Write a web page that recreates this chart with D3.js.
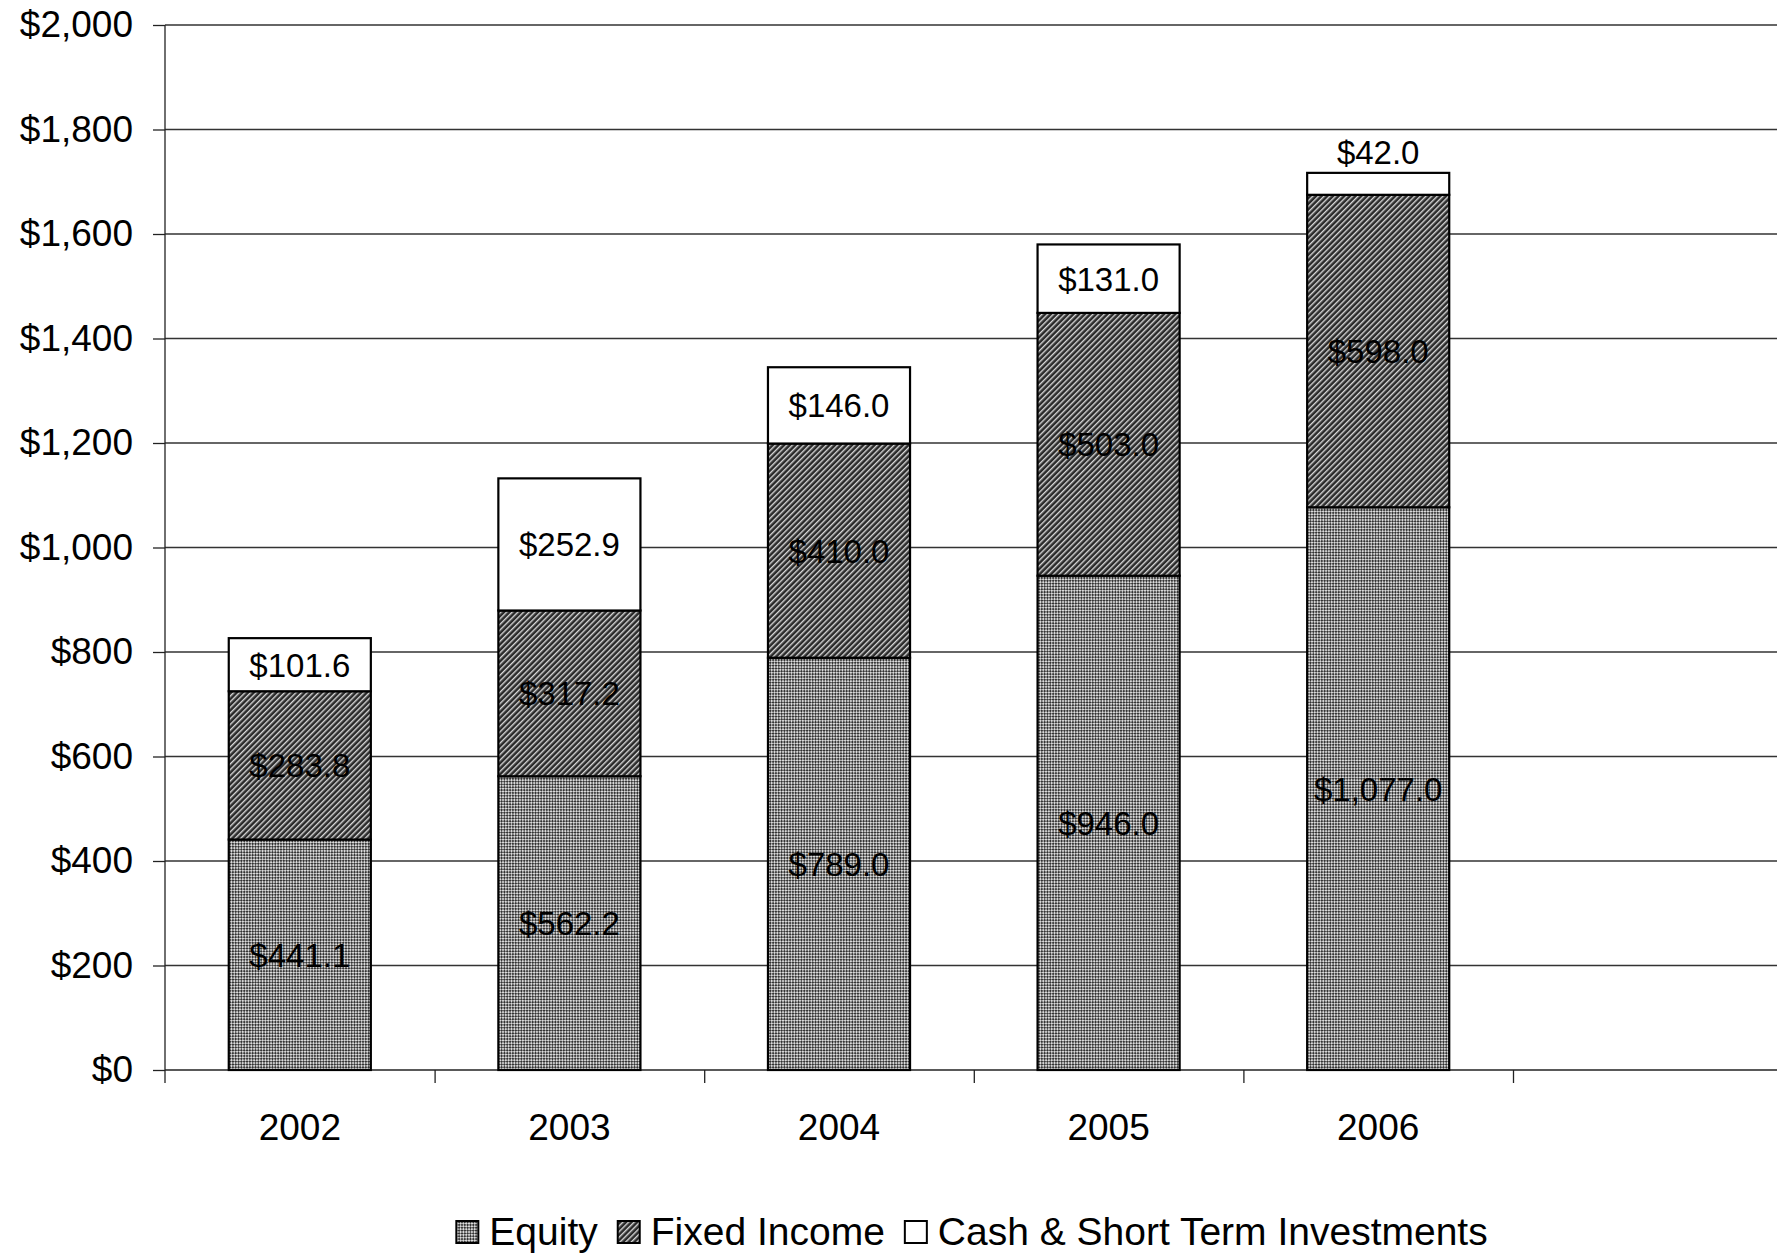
<!DOCTYPE html>
<html>
<head>
<meta charset="utf-8">
<script src="https://cdn.jsdelivr.net/npm/d3@7"></script>
<style>
  body { margin: 0; background: #fff; }
  svg { display: block; font-family: "Liberation Sans", Arial, sans-serif; }
  .yaxis text, .xlabels text { font-size: 37px; fill: #000; }
  .yaxis line, .yaxis path, .xaxis line, .xaxis path { stroke: #222; stroke-width: 1.3; }
  .grid line { stroke: #333; stroke-width: 1.3; }
  .label { font-size: 33px; fill: #000; text-anchor: middle; }
  .legend text { font-size: 39px; fill: #000; }
</style>
</head>
<body>
<div id="main-chart"></div>
<script>
// Data (millions of dollars)
var years = ["2002", "2003", "2004", "2005", "2006"];
var equity = [441.1, 562.2, 789.0, 946.0, 1077.0];
var fixedIncome = [283.8, 317.2, 410.0, 503.0, 598.0];
var cash = [101.6, 252.9, 146.0, 131.0, 42.0];
var yTicks = [0, 200, 400, 600, 800, 1000, 1200, 1400, 1600, 1800, 2000];
var seriesNames = ["Equity", "Fixed Income", "Cash & Short Term Investments"];

var W = 1777, H = 1259;
var margin = { top: 25, left: 165 },
  height = 1045,
  step = 269.6,
  width = step * 6; // one empty slot after 2006, runs past the right edge

var svg = d3
  .select("#main-chart")
  .append("svg")
  .attr("width", W)
  .attr("height", H);

// fill patterns
var defs = svg.append("defs");
var pEq = defs
  .append("pattern")
  .attr("id", "pat-equity")
  .attr("patternUnits", "userSpaceOnUse")
  .attr("width", 4)
  .attr("height", 4)
  .attr("patternTransform", "rotate(45)");
pEq.append("rect").attr("width", 4).attr("height", 4).attr("fill", "#dadada");
pEq.append("rect").attr("width", 2).attr("height", 2).attr("fill", "#333");
pEq.append("rect").attr("x", 2).attr("y", 2).attr("width", 2).attr("height", 2).attr("fill", "#333");

var pFi = defs
  .append("pattern")
  .attr("id", "pat-fixed")
  .attr("patternUnits", "userSpaceOnUse")
  .attr("width", 4)
  .attr("height", 4)
  .attr("patternTransform", "rotate(-45)");
pFi.append("rect").attr("width", 4).attr("height", 4).attr("fill", "#2a2a2a");
pFi.append("rect").attr("width", 4).attr("height", 1.4).attr("fill", "#d8d8d8");

var fills = ["url(#pat-equity)", "url(#pat-fixed)", "#ffffff"];

var g = svg
  .append("g")
  .attr("transform", "translate(" + margin.left + "," + margin.top + ")");

var yScale = d3.scaleLinear().domain([0, 2000]).range([height, 0]);

var xScale = d3
  .scaleBand()
  .domain(years.concat([""]))
  .range([0, width])
  .padding(0);

var xEdge = d3.scaleLinear().domain([0, 6]).range([0, width]);

// horizontal grid lines
g.append("g")
  .attr("class", "grid")
  .selectAll("line")
  .data(yTicks.slice(1))
  .enter()
  .append("line")
  .attr("x1", 0)
  .attr("x2", width)
  .attr("y1", function(d) { return yScale(d); })
  .attr("y2", function(d) { return yScale(d); });

// y axis
var yAxis = g
  .append("g")
  .attr("class", "yaxis")
  .call(
    d3.axisLeft(yScale)
      .tickValues(yTicks)
      .tickSize(12)
      .tickPadding(20)
      .tickFormat(function(d) { return "$" + d3.format(",")(d); })
  );
yAxis.select(".domain").attr("d", "M0,0V" + (height + 13));

// x axis: ticks on the category boundaries
g.append("g")
  .attr("class", "xaxis")
  .attr("transform", "translate(0," + height + ")")
  .call(d3.axisBottom(xEdge).tickValues(d3.range(1, 7)).tickSize(13).tickFormat(""))
  .select(".domain")
  .attr("d", "M0,0H" + width);

// x labels at band centres
var xl = g
  .append("g")
  .attr("class", "xlabels")
  .attr("transform", "translate(0," + height + ")")
  .call(d3.axisBottom(xScale).tickValues(years).tickSize(0).tickPadding(44));
xl.select(".domain").remove();

// stacked bars
var table = years.map(function(y, i) {
  return { year: y, equity: equity[i], fixed: fixedIncome[i], cash: cash[i] };
});
var stack = d3.stack().keys(["equity", "fixed", "cash"])(table);
var barW = xScale.bandwidth() * 0.527;

stack.forEach(function(layer, k) {
  var lg = g.append("g");
  lg.selectAll("rect")
    .data(layer)
    .enter()
    .append("rect")
    .attr("x", function(d) { return xScale(d.data.year) + (xScale.bandwidth() - barW) / 2; })
    .attr("y", function(d) { return yScale(d[1]); })
    .attr("width", barW)
    .attr("height", function(d) { return yScale(d[0]) - yScale(d[1]); })
    .attr("fill", fills[k])
    .attr("stroke", "#000")
    .attr("stroke-width", 2.2);
});

// value labels
stack.forEach(function(layer, k) {
  g.append("g")
    .selectAll("text")
    .data(layer)
    .enter()
    .append("text")
    .attr("class", "label")
    .attr("x", function(d) { return xScale(d.data.year) + xScale.bandwidth() / 2; })
    .attr("y", function(d) {
      var h = yScale(d[0]) - yScale(d[1]);
      if (h < 40) return yScale(d[1]) - 9;
      return (yScale(d[0]) + yScale(d[1])) / 2 + 12;
    })
    .text(function(d) { return "$" + d3.format(",.1f")(d[1] - d[0]); });
});

// legend
var legend = svg.append("g").attr("class", "legend");
var lx = 0;
seriesNames.forEach(function(name, i) {
  var item = legend.append("g").attr("transform", "translate(" + lx + ",0)");
  item.append("rect")
    .attr("x", 0)
    .attr("y", -11)
    .attr("width", 22)
    .attr("height", 22)
    .attr("fill", fills[i])
    .attr("stroke", "#000")
    .attr("stroke-width", 2);
  var t = item.append("text").attr("x", 33).attr("y", 13).text(name);
  lx += 33 + t.node().getComputedTextLength() + 20;
});
lx -= 20;
legend.attr("transform", "translate(" + (972 - lx / 2) + ",1232)");
</script>
</body>
</html>
